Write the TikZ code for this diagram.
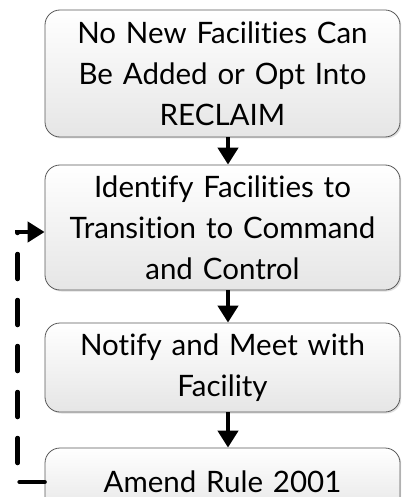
\documentclass[tikz,border=0pt]{standalone}
\usepackage{fontspec}
\setmainfont{Lato}[Ligatures=NoCommon]
\usetikzlibrary{arrows.meta,shadows}

\begin{document}
\begin{tikzpicture}[x=1pt,y=-1pt]
	\useasboundingbox (0,0) rectangle (401,497);
	\clip (0,0) rectangle (401,497);
	\begin{scope}[every node/.style={rounded corners=15pt,draw=black!65,line width=0.8pt,top color=white,bottom color=black!10,drop shadow={opacity=0.25,shadow xshift=1.5pt,shadow yshift=-1.5pt},text width=350pt,minimum width=355pt,align=center,inner sep=0pt,font=\fontsize{29.5}{41}\selectfont}]
		\node[minimum height=127pt] (Stop) at (222.5,73.5) {No New Facilities Can\\ Be Added or Opt Into\\ RECLAIM};
		\node[minimum height=125pt] (Ident) at (222.5,227.5) {Identify Facilities to\\ Transition to Command\\ and Control};
		\node[minimum height=89pt] (Notify) at (222.5,367.5) {Notify and Meet with\\ Facility};
		\node[minimum height=68pt] (Amend) at (222.5,482) {Amend Rule 2001};
	\end{scope}
	
	\begin{scope}[every edge/.style={draw=black,line width=4.5pt},>={Triangle[length=17pt,width=20pt]}]
		\path [->] ([xshift=5.5pt]Stop.south) edge ([xshift=5.5pt]Ident.north);
		\path [->] ([xshift=5.5pt]Ident.south) edge ([xshift=5.5pt]Notify.north);
		\path [->] ([xshift=5.5pt]Notify.south) edge ([xshift=5.5pt]Amend.north);
		\path [->] (Amend.west) edge [dash pattern=on 25pt off 21pt,line cap=round,to path={-- ++(-27,0) |- (\tikztotarget)}] ([yshift=-4.5pt]Ident.west);
	\end{scope}
\end{tikzpicture}
\end{document}
